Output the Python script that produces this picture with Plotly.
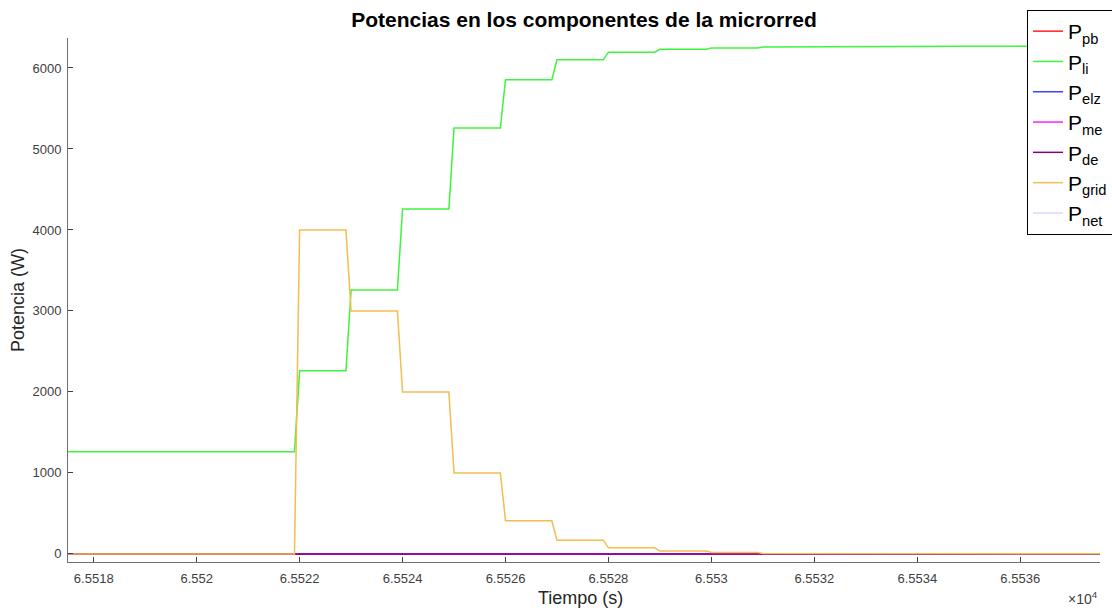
import plotly.graph_objects as go

# ---- data (time in s, power in W) ----
t_li = [65517.5, 65521.9, 65522.0, 65522.9, 65523.0, 65523.9, 65524.0, 65524.9, 65525.0,
        65525.9, 65526.0, 65526.9, 65527.0, 65527.9, 65528.0, 65528.9, 65529.0, 65529.9,
        65530.0, 65530.9, 65531.0, 65531.9, 65532.0, 65532.9, 65533.0, 65533.9, 65534.0,
        65534.9, 65535.0, 65535.9, 65536.0, 65537.6]
p_li = [1260, 1260, 2260, 2260, 3260, 3260, 4260, 4260, 5260,
        5260, 5855, 5855, 6100, 6100, 6195, 6195, 6230, 6230,
        6248, 6248, 6258, 6258, 6262, 6262, 6265, 6265, 6267,
        6267, 6268, 6268, 6269, 6270]

t_grid = [65517.5, 65521.9, 65522.0, 65522.9, 65523.0, 65523.9, 65524.0, 65524.9, 65525.0,
          65525.9, 65526.0, 65526.9, 65527.0, 65527.9, 65528.0, 65528.9, 65529.0, 65529.9,
          65530.0, 65530.9, 65531.0, 65531.9, 65532.0, 65537.6]
p_grid = [0, 0, 4000, 4000, 3000, 3000, 2000, 2000, 1000,
          1000, 410, 410, 170, 170, 75, 75, 35, 35,
          18, 18, 6, 6, 2, 2]

t_zero = [65517.5, 65537.6]
p_pb = [0, 0]
p_elz = [0, 0]
p_me = [0, 0]
p_de = [0, 0]
p_net = [0, 0]

x_ticks = [65518, 65520, 65522, 65524, 65526, 65528, 65530, 65532, 65534, 65536]
x_ticktext = ["6.5518", "6.552", "6.5522", "6.5524", "6.5526", "6.5528", "6.553",
              "6.5532", "6.5534", "6.5536"]
y_ticks = [0, 1000, 2000, 3000, 4000, 5000, 6000]

FONT = "Liberation Sans, Arial, Helvetica, sans-serif"

fig = go.Figure()
# draw order chosen so that the overlap matches; legend order via legendrank
traces = [
    ("P<sub>net</sub>", t_zero, p_net, "#e2d2ff", 7),
    ("P<sub>pb</sub>", t_zero, p_pb, "#ff2020", 1),
    ("P<sub>elz</sub>", t_zero, p_elz, "#4040ff", 3),
    ("P<sub>me</sub>", t_zero, p_me, "#ff20ff", 4),
    ("P<sub>li</sub>", t_li, p_li, "#3cf53c", 2),
    ("P<sub>de</sub>", t_zero, p_de, "#800080", 5),
    ("P<sub>grid</sub>", t_grid, p_grid, "#f2be4e", 6),
]
for name, x, y, c, rank in traces:
    fig.add_trace(go.Scatter(x=x, y=y, mode="lines", name=name,
                             line=dict(color=c, width=1.5), legendrank=rank))

axis_common = dict(showgrid=False, zeroline=False, showline=True, linecolor="#707070",
                   linewidth=1, ticks="inside", ticklen=5, tickcolor="#404040",
                   tickfont=dict(family=FONT, size=13, color="#404040"), mirror=False)

fig.update_layout(
    width=1112, height=613,
    margin=dict(l=68, r=12, t=38, b=51, autoexpand=False),
    paper_bgcolor="white", plot_bgcolor="white",
    title=dict(text="<b>Potencias en los componentes de la microrred</b>",
               x=0.5, xref="paper", xanchor="center",
               y=1 - 20 / 613, yref="container", yanchor="middle",
               font=dict(family=FONT, size=21, color="black")),
    xaxis=dict(range=[65517.5, 65537.55], tickvals=x_ticks, ticktext=x_ticktext,
               ticklabelstandoff=4, automargin=False, **axis_common),
    yaxis=dict(range=[-100, 6370], tickvals=y_ticks, ticklabelstandoff=3, automargin=False,
               **axis_common),
    legend=dict(x=(1027 - 68) / 1032, y=(613 - 51 - 10) / 524, xanchor="left", yanchor="top",
                bgcolor="white", bordercolor="black", borderwidth=1,
                font=dict(family=FONT, size=21, color="black"),
                tracegroupgap=0),
    showlegend=True,
)

fig.add_annotation(text="Tiempo (s)", xref="paper", yref="paper", x=0.497, y=-36 / 524,
                   xanchor="center", yanchor="middle", showarrow=False,
                   font=dict(family=FONT, size=18, color="#262626"))
fig.add_annotation(text="Potencia (W)", xref="paper", yref="paper", x=(18 - 68) / 1032, y=0.5,
                   xanchor="center", yanchor="middle", textangle=-90, showarrow=False,
                   font=dict(family=FONT, size=18, color="#262626"))
fig.add_annotation(text="×10<sup>4</sup>", xref="paper", yref="paper", x=1.0, y=-36 / 524,
                   xanchor="right", yanchor="middle", showarrow=False,
                   font=dict(family=FONT, size=14, color="#404040"))

fig.write_html("out.html")
